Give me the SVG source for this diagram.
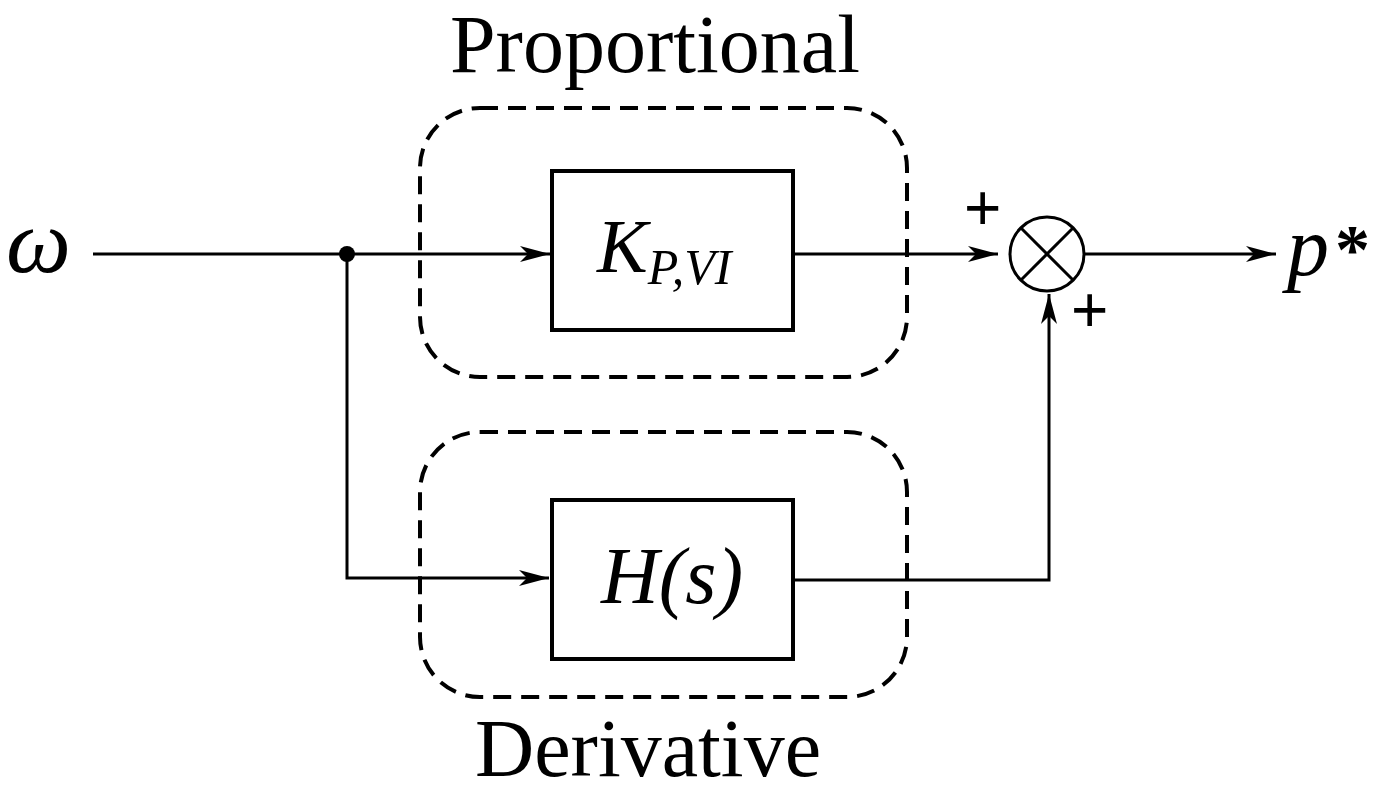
<svg xmlns="http://www.w3.org/2000/svg" width="1398" height="798" viewBox="0 0 1398 798">
<style>
.ln{stroke:#000;stroke-width:3;fill:none}
.bx{stroke:#000;stroke-width:4;fill:#fff}
.dash{stroke:#000;stroke-width:4;fill:none;stroke-dasharray:18 10}
.t{font-family:"Liberation Serif",serif;fill:#000}
.i{font-style:italic}
.pl{font-family:"Liberation Sans",sans-serif;font-size:64px}
</style>
<defs>
<marker id="a" markerUnits="userSpaceOnUse" markerWidth="32" markerHeight="20" refX="30" refY="10" orient="auto">
<path d="M0,2 L30,10 L0,18 L8,10 Z" fill="#000"/>
</marker>
</defs>
<rect x="0" y="0" width="1398" height="798" fill="#fff"/>
<g id="group-proportional">
<rect class="dash" x="420" y="108" width="487" height="269" rx="60"/>
<text class="t" x="655" y="72" font-size="82" text-anchor="middle">Proportional</text>
</g>
<g id="group-derivative">
<rect class="dash" x="420" y="432" width="487" height="265" rx="60"/>
<text class="t" x="648" y="776" font-size="82" text-anchor="middle">Derivative</text>
</g>
<g id="connectors">
<line class="ln" x1="93" y1="254" x2="550" y2="254" marker-end="url(#a)"/>
<polyline class="ln" points="347,254 347,578 549,578" marker-end="url(#a)"/>
<line class="ln" x1="793" y1="254" x2="998" y2="254" marker-end="url(#a)"/>
<polyline class="ln" points="793,580 1049,580 1049,294" marker-end="url(#a)"/>
<line class="ln" x1="1085" y1="254" x2="1276" y2="254" marker-end="url(#a)"/>
<circle cx="347" cy="254" r="8" fill="#000"/>
</g>
<g id="input">
<text class="t i" x="6" y="272" font-size="92">ω</text>
</g>
<g id="block-k">
<rect class="bx" x="552" y="171" width="241" height="159"/>
<text class="t i" x="597" y="272" font-size="76">K<tspan font-size="50" dy="12">P,VI</tspan></text>
</g>
<g id="block-h">
<rect class="bx" x="552" y="500" width="241" height="159"/>
<text class="t i" x="672" y="603" font-size="80" text-anchor="middle">H(s)</text>
</g>
<g id="sum">
<circle class="ln" cx="1047" cy="254" r="37" stroke-width="6"/>
<line class="ln" x1="1021" y1="228" x2="1073" y2="280" stroke-width="5"/>
<line class="ln" x1="1073" y1="228" x2="1021" y2="280" stroke-width="5"/>
<text class="pl" x="964" y="230">+</text>
<text class="pl" x="1071" y="332">+</text>
</g>
<g id="output">
<text class="t i" x="1287" y="275" font-size="84">p<tspan font-style="normal" font-weight="bold" font-size="70" dy="-2" dx="6">*</tspan></text>
</g>
</svg>
